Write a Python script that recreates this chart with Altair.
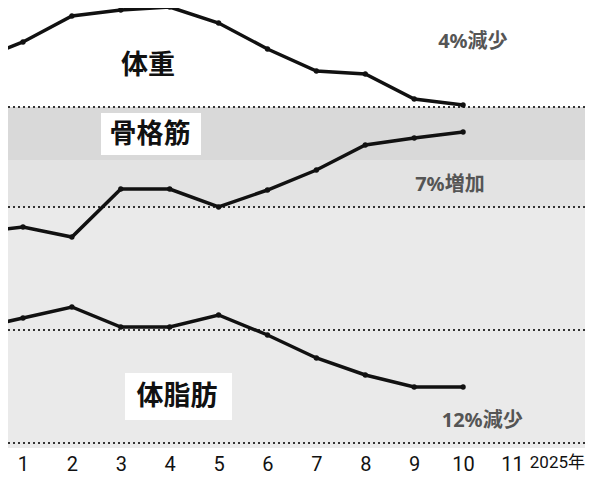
import altair as alt
import pandas as pd

# months (0 = December of previous year, partially visible at the left edge)
months = [0, 1, 2, 3, 4, 5, 6, 7, 8, 9, 10]
# relative levels (higher = further up)
weight = [387, 406, 432, 438, 441, 425, 399, 377, 374, 349, 343]
muscle = [215, 221, 211, 259, 259, 241, 258, 278, 303, 310, 316]
fat = [119, 130, 141, 121, 121, 133, 113, 90, 73, 61, 61]

tick_values = [1, 2, 3, 4, 5, 6, 7, 8, 9, 10, 11, 12]
year_label = "2025年"

band_lo = [288, 241, 0]
band_hi = [341, 288, 241]
band_col = ["#d9d9d9", "#e3e3e3", "#eaeaea"]

rule_levels = [341, 241, 118, 5]

lab_text = ["体重", "骨格筋", "体脂肪"]
lab_x = [3.556, 3.597, 4.149]
lab_y = [382, 313, 51]

box_x = [2.595, 3.086]
box_x2 = [4.640, 5.274]
box_y = [335, 75]
box_y2 = [293, 28]

pct_text = ["4%減少", "7%増加", "12%減少"]
pct_x = [10.20, 9.73, 10.39]
pct_y = [406, 263, 27]

rows = []
for name, vals in [("体重", weight), ("骨格筋", muscle), ("体脂肪", fat)]:
    for m, v in zip(months, vals):
        rows.append({"series": name, "month": m, "value": v})
lines_df = pd.DataFrame(rows)
points_df = lines_df[lines_df["month"] >= 1]

bands_df = pd.DataFrame({"lo": band_lo, "hi": band_hi, "col": band_col})
rules_df = pd.DataFrame({"level": rule_levels})
labels_df = pd.DataFrame({"t": lab_text, "x": lab_x, "y": lab_y})
boxes_df = pd.DataFrame({"x": box_x, "x2": box_x2, "y": box_y, "y2": box_y2})
pct_df = pd.DataFrame({"t": pct_text, "x": pct_x, "y": pct_y})

xscale = alt.Scale(domain=[0.6933, 12.493], nice=False, zero=False)
yscale = alt.Scale(domain=[0, 440], nice=False, zero=False)

is_year = "datum.value == 12"
xaxis = alt.Axis(
    values=tick_values,
    labelExpr=f"{is_year} ? '{year_label}' : datum.label",
    domain=False, ticks=False, grid=False, title=None,
    labelFont="Roboto, Noto Sans CJK JP, sans-serif",
    labelFontSize=alt.ConditionalAxisNumber(
        condition={"test": is_year, "value": 17}, value=20),
    labelOffset=alt.ConditionalAxisNumber(
        condition={"test": is_year, "value": -4}, value=0),
    labelColor="#111", labelPadding=6, labelFlush=False, labelOverlap=False,
)

bands = alt.Chart(bands_df).mark_rect().encode(
    y=alt.Y("lo:Q", scale=yscale, axis=None),
    y2="hi:Q",
    color=alt.Color("col:N", scale=None),
)

rules = alt.Chart(rules_df).mark_rule(
    strokeDash=[2, 3], strokeWidth=2, color="#333"
).encode(y=alt.Y("level:Q", scale=yscale, axis=None))

lines = alt.Chart(lines_df).mark_line(
    color="#111", strokeWidth=3.5, clip=True
).encode(
    x=alt.X("month:Q", scale=xscale, axis=xaxis),
    y=alt.Y("value:Q", scale=yscale, axis=None),
    detail="series:N",
)

points = alt.Chart(points_df).mark_point(
    filled=True, color="#111", size=28, opacity=1, clip=True
).encode(
    x=alt.X("month:Q", scale=xscale, axis=xaxis),
    y=alt.Y("value:Q", scale=yscale, axis=None),
)

boxes = alt.Chart(boxes_df).mark_rect(color="white").encode(
    x=alt.X("x:Q", scale=xscale, axis=xaxis),
    x2="x2:Q",
    y=alt.Y("y:Q", scale=yscale, axis=None),
    y2="y2:Q",
)

labels = alt.Chart(labels_df).mark_text(
    font="Noto Sans CJK JP", fontWeight="bold", fontSize=27, color="#111",
    align="center", baseline="middle",
).encode(
    x=alt.X("x:Q", scale=xscale, axis=xaxis),
    y=alt.Y("y:Q", scale=yscale, axis=None),
    text="t:N",
)

pcts = alt.Chart(pct_df).mark_text(
    font="Noto Sans, Noto Sans CJK JP, sans-serif", fontWeight="bold",
    fontSize=20, color="#555", align="center", baseline="middle",
).encode(
    x=alt.X("x:Q", scale=xscale, axis=xaxis),
    y=alt.Y("y:Q", scale=yscale, axis=None),
    text="t:N",
)

chart = alt.layer(bands, rules, lines, points, boxes, labels, pcts).properties(
    width=577, height=440,
    autosize=alt.AutoSizeParams(type="none"),
    padding={"left": 0, "top": 0, "right": 2, "bottom": 26},
).configure_view(stroke=None, fill="white")

chart.save("out.html", embed_options={"renderer": "svg", "actions": False})
